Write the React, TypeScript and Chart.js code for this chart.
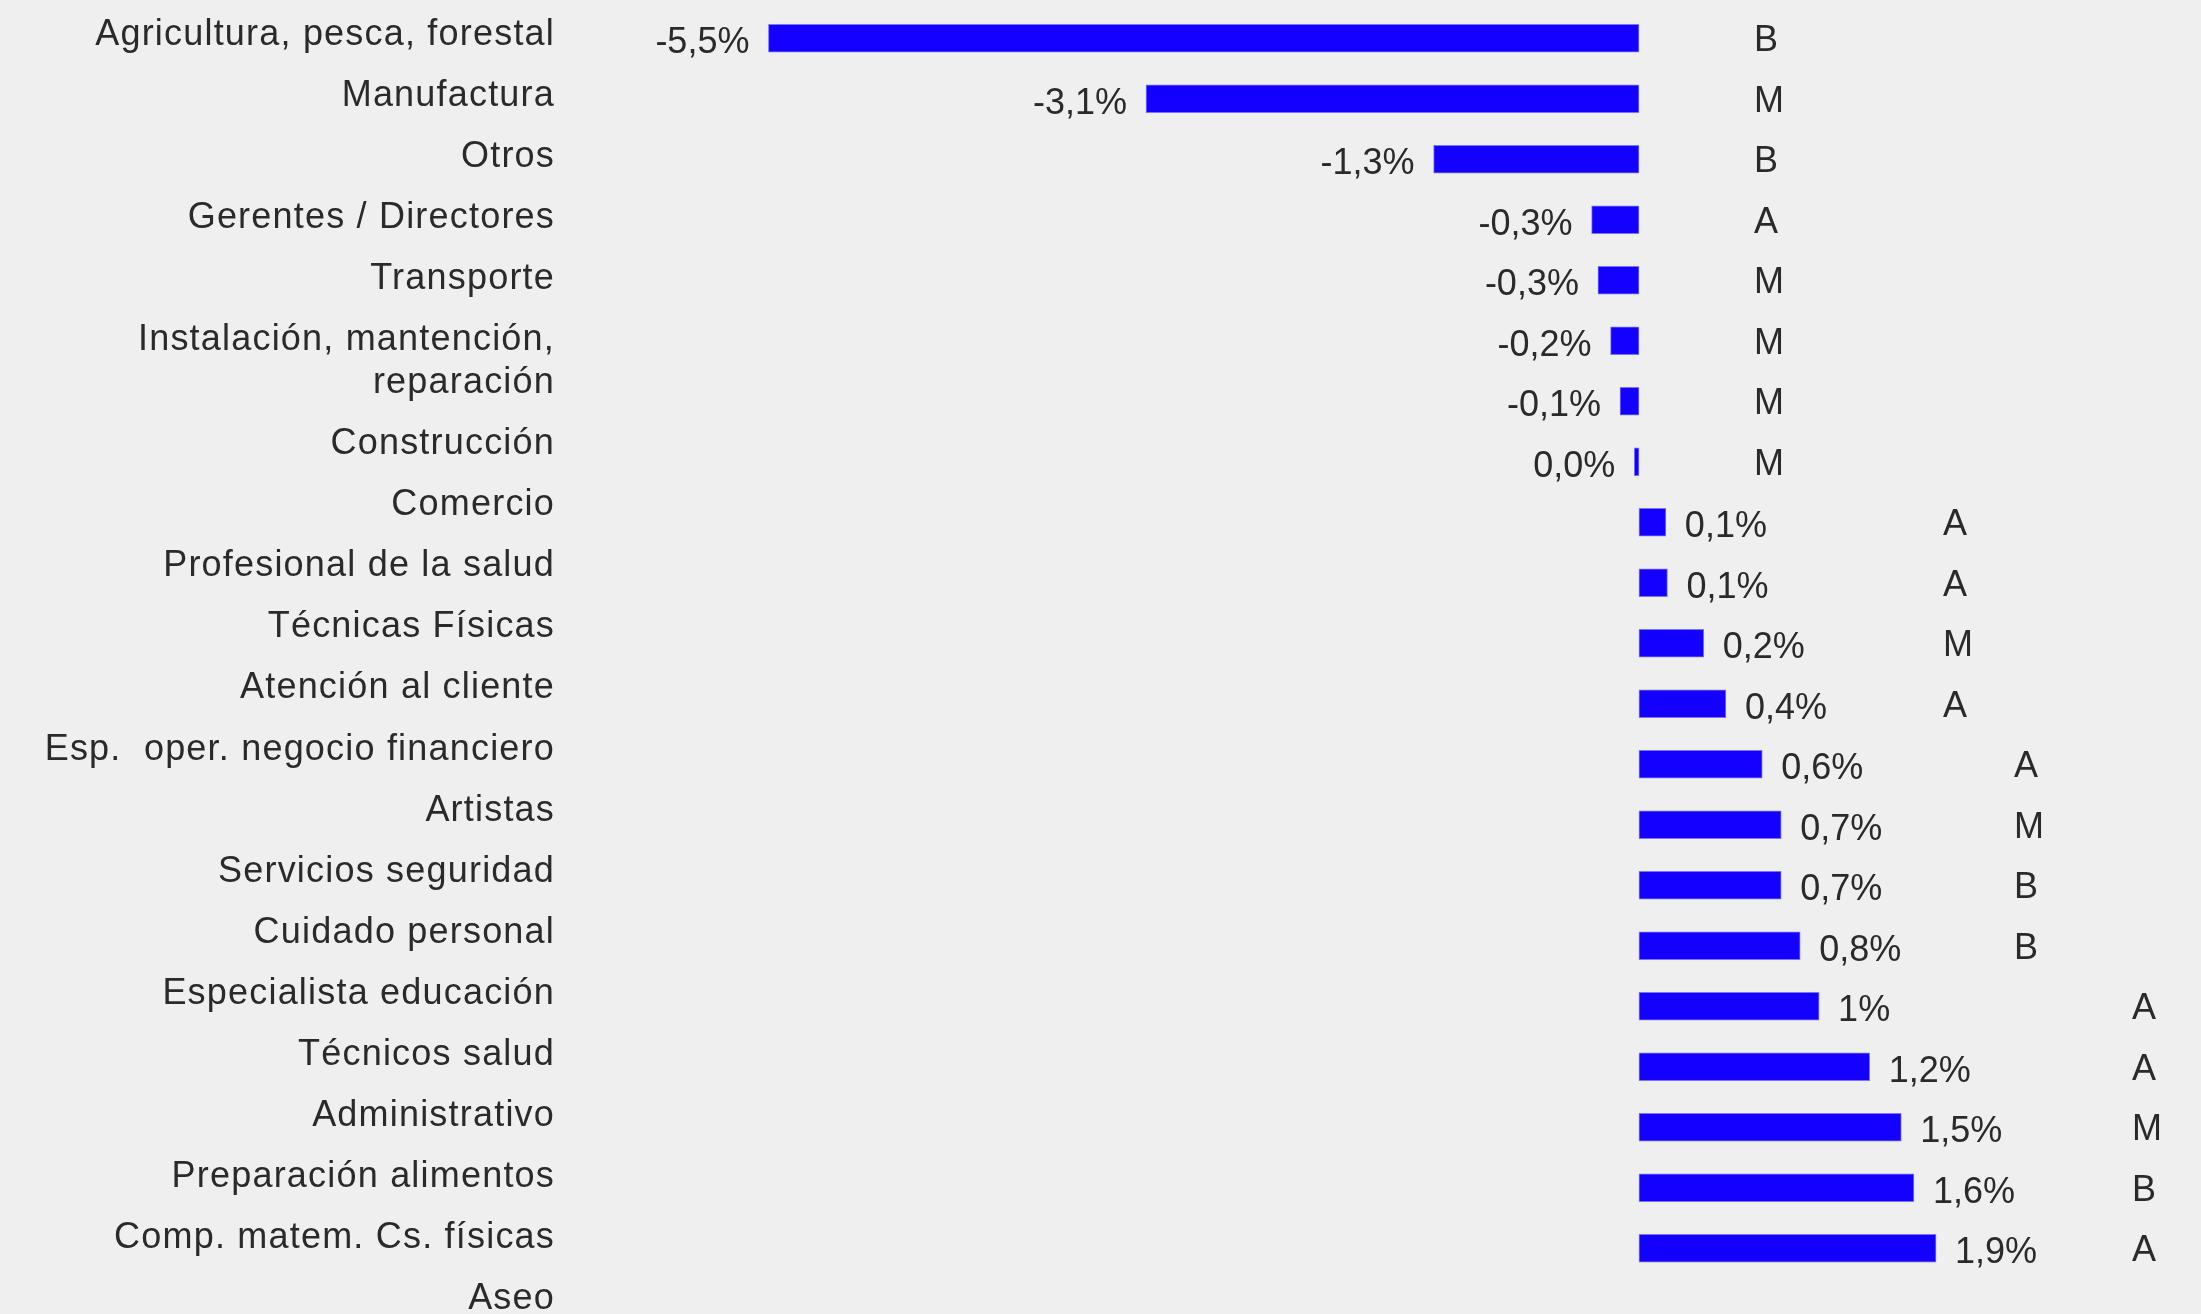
import React, { useEffect, useRef } from 'react';
import { Chart, registerables } from 'chart.js';

Chart.register(...registerables);

// ---------- data ----------
const categories: (string | string[])[] = [
  'Agricultura, pesca, forestal',
  'Manufactura',
  'Otros',
  'Gerentes / Directores',
  'Transporte',
  ['Instalación, mantención,', 'reparación'],
  'Construcción',
  'Comercio',
  'Profesional de la salud',
  'Técnicas Físicas',
  'Atención al cliente',
  'Esp.  oper. negocio financiero',
  'Artistas',
  'Servicios seguridad',
  'Cuidado personal',
  'Especialista educación',
  'Técnicos salud',
  'Administrativo',
  'Preparación alimentos',
  'Comp. matem. Cs. físicas',
  'Aseo',
];

// bar lengths as drawn in the picture (percent)
const barValues = [
  -5.51, -3.12, -1.3, -0.3, -0.26, -0.18, -0.12, -0.03,
  0.17, 0.18, 0.41, 0.55, 0.78, 0.9, 0.9, 1.02, 1.14, 1.46, 1.66, 1.74, 1.88,
];

// value labels as printed
const valueLabels = [
  '-5,5%', '-3,1%', '-1,3%', '-0,3%', '-0,3%', '-0,2%', '-0,1%', '0,0%',
  '0,1%', '0,1%', '0,2%', '0,4%', '0,6%', '0,7%', '0,7%', '0,8%', '1%', '1,2%', '1,5%', '1,6%', '1,9%',
];

// grade letters
const grades = [
  'B', 'M', 'B', 'A', 'M', 'M', 'M', 'M',
  'A', 'A', 'M', 'A',
  'A', 'M', 'B', 'B',
  'A', 'A', 'M', 'B', 'A',
];

// ---------- layout / style ----------
const BAR_COLOR = '#1400ff';
const BAR_EDGE = '#7a74ff';
const TEXT_COLOR = '#2a2a2a';
const BG = '#efefef';
const FONT = '36px "Liberation Sans", Arial, sans-serif';
// x position (in axis units) of the left edge of the grade letter for each row group
const GRADE_COLUMN_GROUPS = [
  { from: 0, to: 7, x: 0.728 },
  { from: 8, to: 11, x: 1.924 },
  { from: 12, to: 15, x: 2.373 },
  { from: 16, to: 20, x: 3.12 },
];

const gradeColumn = (i: number) => {
  const g = GRADE_COLUMN_GROUPS.find((c) => i >= c.from && i <= c.to);
  return g ? g.x : 0.728;
};

const overlayPlugin = {
  id: 'overlay',
  afterDatasetsDraw(chart: any) {
    const { ctx } = chart;
    const xs = chart.scales.x;
    const ys = chart.scales.y;
    const meta = chart.getDatasetMeta(0);
    ctx.save();
    ctx.fillStyle = TEXT_COLOR;
    ctx.font = FONT;
    ctx.textBaseline = 'alphabetic';

    // value labels + grades
    meta.data.forEach((bar: any, i: number) => {
      const p = bar.getProps(['x', 'y', 'base'], true);
      const v = barValues[i];
      if (v < 0) {
        ctx.textAlign = 'right';
        ctx.fillText(valueLabels[i], p.x - 19, p.y + 15);
      } else {
        ctx.textAlign = 'left';
        ctx.fillText(valueLabels[i], p.x + 19, p.y + 15);
      }
      ctx.textAlign = 'left';
      ctx.fillText(grades[i], xs.getPixelForValue(gradeColumn(i)), p.y + 13);
    });

    // category labels (left column)
    const pitch = ys.getPixelForValue(1) - ys.getPixelForValue(0);
    let yy = ys.getPixelForValue(0) + 6.7;
    ctx.textAlign = 'right';
    try { (ctx as any).letterSpacing = '1.2px'; } catch (e) { /* ignore */ }
    categories.forEach((lab) => {
      const lines = Array.isArray(lab) ? lab : [lab];
      lines.forEach((ln, j) => ctx.fillText(ln, 555, yy + j * 43));
      yy += pitch + 0.6 + (lines.length - 1) * 42.5;
    });
    ctx.restore();
  },
};

export default function App() {
  const ref = useRef<HTMLCanvasElement | null>(null);

  useEffect(() => {
    if (!ref.current) return;
    const chart = new Chart(ref.current, {
      type: 'bar',
      data: {
        labels: categories as any,
        datasets: [
          {
            data: barValues,
            backgroundColor: BAR_COLOR,
            borderColor: BAR_EDGE,
            borderWidth: 1,
            borderSkipped: false,
            barThickness: 28,
          },
        ],
      },
      options: {
        animation: false,
        responsive: true,
        maintainAspectRatio: false,
        indexAxis: 'y',
        layout: { padding: { left: 691, right: 24.8, top: 8, bottom: 35.5 } },
        scales: {
          x: { display: false, min: -6, max: 3.4 },
          y: { display: false, offset: true },
        },
        plugins: {
          legend: { display: false },
          tooltip: { enabled: false },
        },
      },
      plugins: [overlayPlugin],
    } as any);
    return () => chart.destroy();
  }, []);

  return (
    <div
      style={{
        position: 'fixed',
        left: 0,
        top: 0,
        width: 2201,
        height: 1314,
        background: BG,
      }}
    >
      <canvas ref={ref} />
    </div>
  );
}
